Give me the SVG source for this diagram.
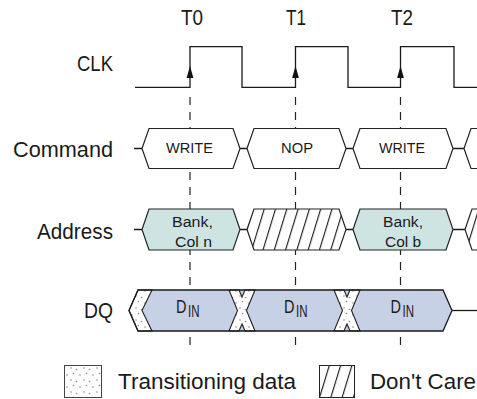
<svg xmlns="http://www.w3.org/2000/svg" width="477" height="399" viewBox="0 0 477 399">
<style>
text{font-family:"Liberation Sans",Arial,sans-serif;fill:#1a1a1a}
.lbl{font-size:21.5px}
.bt{font-size:15.5px}
.w{fill:none;stroke:#1a1a1a;stroke-width:1.3}
.box{fill:#fff;stroke:#222;stroke-width:1.2}
.addr{fill:#cde4e2;stroke:#222;stroke-width:1.2}
.hat{fill:url(#hatch);stroke:#222;stroke-width:1.2}
.dq{fill:#c7d1e5}
.dot{fill:url(#dots);stroke:#222;stroke-width:1.1}
.dash{stroke:#222;stroke-width:1.2;stroke-dasharray:8 7}
</style>
<defs>
<pattern id="hatch" patternUnits="userSpaceOnUse" width="10.8" height="20" patternTransform="rotate(17)">
<rect width="10.8" height="20" fill="#fff"/>
<line x1="0.6" y1="0" x2="0.6" y2="20" stroke="#111" stroke-width="1.1"/>
</pattern>
<pattern id="dots" patternUnits="userSpaceOnUse" width="13" height="12">
<rect width="13" height="12" fill="#fff"/>
<circle cx="2" cy="3" r="0.8" fill="#8a8a8a"/>
<circle cx="8.5" cy="1.5" r="0.8" fill="#8a8a8a"/>
<circle cx="6" cy="8" r="0.8" fill="#8a8a8a"/>
<circle cx="11.5" cy="9.5" r="0.8" fill="#8a8a8a"/>
</pattern>
</defs>

<g id="connectors">
<line class="dash" x1="190" y1="97" x2="190" y2="346"/>
<line class="dash" x1="295.5" y1="97" x2="295.5" y2="346"/>
<line class="dash" x1="400.5" y1="97" x2="400.5" y2="346"/>
<path class="w" d="M134 148.5H142M240 148.5H247M346 148.5H353M453 148.5H464"/>
<path class="w" d="M134 229.5H142M240 229.5H247M346 229.5H353M453 229.5H465"/>
<path class="w" d="M452 310.5H477"/>
</g>

<g id="labels">
<text class="lbl" x="181" y="25" textLength="22" lengthAdjust="spacingAndGlyphs">T0</text>
<text class="lbl" x="286" y="25" textLength="20" lengthAdjust="spacingAndGlyphs">T1</text>
<text class="lbl" x="391" y="25" textLength="22" lengthAdjust="spacingAndGlyphs">T2</text>
<text class="lbl" x="77" y="71" textLength="36" lengthAdjust="spacingAndGlyphs">CLK</text>
<text class="lbl" x="13" y="157" textLength="100" lengthAdjust="spacingAndGlyphs">Command</text>
<text class="lbl" x="37" y="239" textLength="76" lengthAdjust="spacingAndGlyphs">Address</text>
<text class="lbl" x="84" y="318" textLength="29" lengthAdjust="spacingAndGlyphs">DQ</text>
</g>

<g id="clk">
<path class="w" d="M135 87.3H190V46.7H242V87.3H295.5V46.7H348V87.3H400.5V46.7H454V87.3H478"/>
<path d="M190 66L186.6 78H193.4Z" fill="#111"/>
<path d="M295.5 66L292.1 78H298.9Z" fill="#111"/>
<path d="M400.5 66L397.1 78H403.9Z" fill="#111"/>
</g>

<g id="cmd-write-1">
<path class="box" d="M142 148.5L149 128.5H233L240 148.5L233 168.5H149Z"/>
<text class="bt" x="166" y="153" textLength="47" lengthAdjust="spacingAndGlyphs">WRITE</text>
</g>
<g id="cmd-nop">
<path class="box" d="M247 148.5L254 128.5H339L346 148.5L339 168.5H254Z"/>
<text class="bt" x="281" y="153" textLength="32" lengthAdjust="spacingAndGlyphs">NOP</text>
</g>
<g id="cmd-write-2">
<path class="box" d="M353 148.5L360 128.5H446L453 148.5L446 168.5H360Z"/>
<text class="bt" x="379" y="153" textLength="46" lengthAdjust="spacingAndGlyphs">WRITE</text>
</g>
<g id="cmd-next">
<path class="box" d="M464 148.5L471 128.5H490V168.5H471Z"/>
</g>

<g id="addr-1">
<path class="addr" d="M142 229.5L149 209H233L240 229.5L233 250H149Z"/>
<text class="bt" x="172" y="226.5" textLength="41" lengthAdjust="spacingAndGlyphs">Bank,</text>
<text class="bt" x="175" y="246.5" textLength="37" lengthAdjust="spacingAndGlyphs">Col n</text>
</g>
<g id="addr-dc">
<path class="hat" d="M247 229.5L254 209H339L346 229.5L339 250H254Z"/>
</g>
<g id="addr-2">
<path class="addr" d="M353 229.5L360 209H446L453 229.5L446 250H360Z"/>
<text class="bt" x="383" y="226.5" textLength="40" lengthAdjust="spacingAndGlyphs">Bank,</text>
<text class="bt" x="385" y="246.5" textLength="36" lengthAdjust="spacingAndGlyphs">Col b</text>
</g>
<g id="addr-next">
<path class="hat" d="M465 229.5L472 209H490V250H472Z"/>
</g>

<g id="dq">
<path class="dq" d="M152 290H443L452 310.5L443 331H152L142 310.5Z"/>
<path class="dot" d="M138 290H152L142 310.5L152 331H138L129 310.5Z"/>
<path class="dot" d="M229 290H239L242 297L245 290H255L246.5 310.5L255 331H245L242 324L239 331H229L237.5 310.5Z"/>
<path class="dot" d="M334 290H344L347 297L350 290H360L351.5 310.5L360 331H350L347 324L344 331H334L342.5 310.5Z"/>
<path class="w" d="M138 290H443L452 310.5L443 331H138L129 310.5Z" stroke-width="1.2"/>
</g>
<g id="dq-1">
<text x="176" y="312.5"><tspan font-size="19" textLength="10.5" lengthAdjust="spacingAndGlyphs">D</tspan><tspan x="188" y="316.5" font-size="16" textLength="11.5" lengthAdjust="spacingAndGlyphs">IN</tspan></text>
</g>
<g id="dq-2">
<text x="284" y="312.5"><tspan font-size="19" textLength="10.5" lengthAdjust="spacingAndGlyphs">D</tspan><tspan x="296" y="316.5" font-size="16" textLength="11.5" lengthAdjust="spacingAndGlyphs">IN</tspan></text>
</g>
<g id="dq-3">
<text x="390.5" y="312.5"><tspan font-size="19" textLength="10.5" lengthAdjust="spacingAndGlyphs">D</tspan><tspan x="402.5" y="316.5" font-size="16" textLength="11.5" lengthAdjust="spacingAndGlyphs">IN</tspan></text>
</g>

<g id="legend">
<rect x="64.5" y="365.5" width="37" height="32" fill="url(#dots)" stroke="#444" stroke-width="1"/>
<text class="lbl" x="118" y="389" textLength="178" lengthAdjust="spacingAndGlyphs">Transitioning data</text>
<rect x="319.5" y="365.5" width="35" height="32" fill="url(#hatch)" stroke="#222" stroke-width="1"/>
<text class="lbl" x="370" y="389" textLength="106" lengthAdjust="spacingAndGlyphs">Don't Care</text>
</g>
</svg>
